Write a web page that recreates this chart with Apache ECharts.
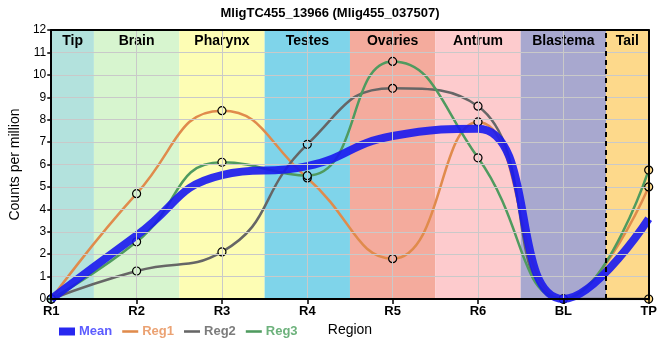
<!DOCTYPE html>
<html><head><meta charset="utf-8">
<script src="https://cdn.jsdelivr.net/npm/echarts@6/dist/echarts.min.js"></script>
<style>html,body{margin:0;padding:0;background:#fff}#c{width:660px;height:360px}</style>
</head><body><div id="c"></div>
<script>
const categories = ['R1','R2','R3','R4','R5','R6','BL','TP'];
const meanVals = [0, 2.83, 5.53, 5.93, 7.27, 7.6, 0, 3.58];
const reg1Vals = [0, 4.7, 8.4, 5.4, 1.8, 7.9, 0, 5.0];
const reg2Vals = [0, 1.25, 2.1, 6.9, 9.4, 8.6, 0, 0];
const reg3Vals = [0, 2.55, 6.1, 5.5, 10.6, 6.3, 0, 5.75];
const regionNames = ['Tip','Brain','Pharynx','Testes','Ovaries','Antrum','Blastema','Tail'];
const regionStart = [0, 0.5, 1.5, 2.5, 3.5, 4.5, 5.5, 6.5];
const regionEnd   = [0.5, 1.5, 2.5, 3.5, 4.5, 5.5, 6.5, 7];
const regionColors = ['#b3e2dd','#d7f5cf','#fdfdb4','#7fd4ea','#f4ab9d','#fdcbcd','#a8a8cf','#fdd98b'];
const tailBoundary = 6.5;
const yMax = 12;

const FONT = "'Liberation Sans',Arial,sans-serif";

function bandColorAt(x){
  for (let k = 0; k < regionStart.length; k++) {
    if (x >= regionStart[k] && x <= regionEnd[k]) return regionColors[k];
  }
  return '#fff';
}
const toPts = arr => arr.map((v,i)=>({value:[i,v], itemStyle:{color:bandColorAt(i)}}));
const toPlain = arr => arr.map((v,i)=>[i,v]);

const gridLines = [];
for (let i = 0; i < categories.length; i++) gridLines.push({xAxis: i});
for (let j = 0; j <= yMax; j++) gridLines.push({yAxis: j});

const bandData = regionNames.map((n,i)=>[
  {name:n, xAxis:regionStart[i], yAxis:0, itemStyle:{color:regionColors[i]}},
  {xAxis:regionEnd[i], yAxis:yMax}
]);

function regSeries(name, vals, color, z){
  return {
    name, type:'line', data: toPts(vals), smooth:0.5, z,
    symbol:'circle', symbolSize:8, showSymbol:true,
    lineStyle:{color, width:2.5},
    itemStyle:{borderColor:'#000', borderWidth:1.2},
    emphasis:{disabled:true}
  };
}
const lineIcon = 'path://M0,0 L10,0 L10,1.6 L0,1.6 Z';

const chart = echarts.init(document.getElementById('c'), null, {renderer:'canvas'});
chart.setOption({
  animation:false,
  textStyle:{fontFamily:FONT},
  title:{text:'MligTC455_13966 (Mlig455_037507)', left:'center', top:2,
    textStyle:{fontSize:13, fontWeight:'bold', color:'#000', fontFamily:FONT}},
  grid:{left:50, right:9, top:30, bottom:61},
  legend:{
    left:54, top:320, itemWidth:16, itemHeight:8, itemGap:10,
    textStyle:{fontSize:13, fontWeight:'bold', fontFamily:FONT, padding:[0,0,0,-1]},
    data:[
      {name:'Mean', icon:'rect', itemStyle:{color:'#2828f0'}, textStyle:{color:'#5c5cff'}},
      {name:'Reg1', icon:lineIcon, itemStyle:{color:'#e08b4c', borderWidth:0}, textStyle:{color:'#eba273'}},
      {name:'Reg2', icon:lineIcon, itemStyle:{color:'#666666', borderWidth:0}, textStyle:{color:'#7c7c7c'}},
      {name:'Reg3', icon:lineIcon, itemStyle:{color:'#4f9b5f', borderWidth:0}, textStyle:{color:'#6db27c'}}
    ]
  },
  xAxis:[{
    type:'value', min:0, max:categories.length-1, interval:1, z:10,
    name:'Region', nameLocation:'middle', nameGap:24,
    nameTextStyle:{color:'#000', fontSize:14, fontFamily:FONT},
    axisLine:{lineStyle:{color:'#000', width:2}},
    axisTick:{show:true, length:5, lineStyle:{color:'#000', width:1.5}},
    axisLabel:{formatter:v=>categories[v]||'', color:'#000', fontSize:13, fontWeight:'bold', margin:6, fontFamily:FONT},
    splitLine:{show:false}
  },{
    type:'value', position:'top', min:0, max:categories.length-1, z:10,
    axisLine:{show:true, onZero:false, lineStyle:{color:'#000', width:2}},
    axisTick:{show:false}, axisLabel:{show:false}, splitLine:{show:false}
  }],
  yAxis:[{
    type:'value', min:0, max:yMax, interval:1, z:10,
    name:'Counts per million', nameLocation:'middle', nameGap:27,
    nameTextStyle:{color:'#000', fontSize:14, fontFamily:FONT},
    axisLine:{show:true, lineStyle:{color:'#000', width:2}},
    axisTick:{show:true, length:4, lineStyle:{color:'#000', width:1.5}},
    axisLabel:{color:'#000', fontSize:12, margin:5, fontFamily:FONT},
    splitLine:{show:false}
  },{
    type:'value', position:'right', min:0, max:yMax, z:10,
    axisLine:{show:true, onZero:false, lineStyle:{color:'#000', width:2}},
    axisTick:{show:false}, axisLabel:{show:false}, splitLine:{show:false}
  }],
  series:[
    {name:'bands', type:'line', data:[], z:1, silent:true,
      markArea:{silent:true, label:{show:true, position:'insideTop', distance:4, color:'#000', fontSize:14, fontWeight:'bold', fontFamily:FONT},
        data:bandData}},
    {name:'grid', type:'line', data:[], z:1.5, silent:true,
      markLine:{silent:true, symbol:['none','none'], label:{show:false}, animation:false,
        lineStyle:{color:'#c9c9c9', width:1, type:'solid'}, data:gridLines}},
    regSeries('Reg1', reg1Vals, '#e08b4c', 3),
    regSeries('Reg2', reg2Vals, '#666666', 3),
    regSeries('Reg3', reg3Vals, '#4f9b5f', 3),
    {name:'Mean', type:'line', data:toPlain(meanVals), smooth:0.5, z:4, showSymbol:false, symbol:'none',
      lineStyle:{color:'rgba(24,24,240,0.9)', width:8}, itemStyle:{color:'#2828f0'}, emphasis:{disabled:true}},
    {name:'divider', type:'line', data:[], z:5, silent:true,
      markLine:{silent:true, symbol:['none','none'], label:{show:false},
        lineStyle:{color:'#000', width:2, type:[5,4]}, data:[{xAxis:tailBoundary}]}}
  ]
});
</script>
</body></html>
